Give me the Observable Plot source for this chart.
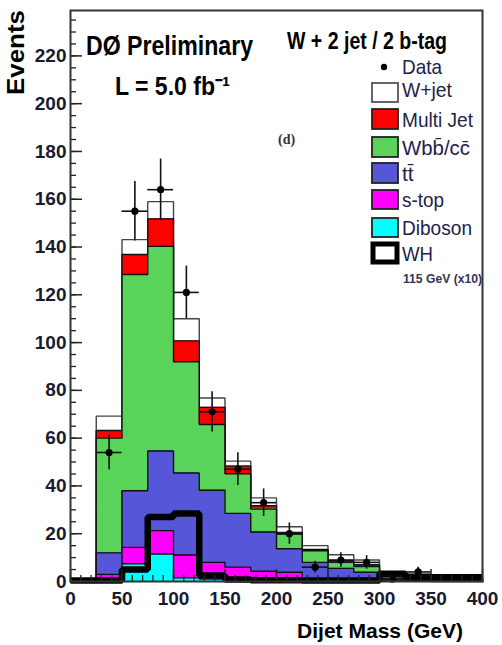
<!DOCTYPE html>
<html><head><meta charset="utf-8">
<script src="https://cdn.jsdelivr.net/npm/d3@7"></script>
<script src="https://cdn.jsdelivr.net/npm/@observablehq/plot@0.6"></script>
<style>body{margin:0;background:#fff} svg{display:block}</style>
</head><body><div id="chart"></div>
<script>
// ---- data (25 GeV bins, 0..400 GeV) ----
const binEdges = [0,25,50,75,100,125,150,175,200,225,250,275,300,325,350,375,400];
const diboson  = [0, 1.0, 7.4, 11.5, 1.5, 1.0, 0.5, 0.3, 0.3, 0.2, 0.2, 0.3, 0.1, 0.1, 0.0, 0.0];
const stop     = [0, 2.0, 6.9, 9.8, 9.6, 7.0, 5.5, 4.0, 3.6, 1.0, 0.8, 1.0, 0.3, 0.2, 0.1, 0.1];
const ttbar    = [0, 9.0, 23.7, 33.3, 34.3, 30.2, 22.5, 16.4, 9.8, 6.8, 4.5, 2.6, 1.0, 0.8, 0.4, 0.3];
const wbb      = [0, 48.0, 90.5, 85.7, 46.6, 27.5, 16.6, 9.6, 6.2, 4.9, 2.5, 2.4, 1.2, 1.0, 0.6, 0.5];
const multijet = [0, 3.2, 8.4, 11.5, 8.7, 7.2, 3.2, 1.4, 0.6, 0.5, 0.7, 0.7, 0.3, 0.3, 0.2, 0.1];
const wjet     = [0, 6.0, 6.2, 7.2, 9.3, 3.9, 2.1, 3.3, 2.4, 1.6, 2.5, 2.0, 1.0, 0.8, 0.5, 0.4];
const whx10    = [0.4, 0.4, 5.0, 27.0, 28.5, 2.5, 0.8, 0.5, 0.5, 0.4, 0.4, 0.4, 3.2, 1.8, 1.8, 1.8];
const dataCounts = [0, 54, 155, 164, 121, 71, 47, 33, 20, 6, 9, 8, 1, 4, 0, 0];

const yTicks = [0,20,40,60,80,100,120,140,160,180,200,220];
const yMinor = d3.range(0, 240, 5);
const xTicks = [0,50,100,150,200,250,300,350,400];
const xMinor = d3.range(0, 410, 10);

// stacking order bottom -> top
const layerNames  = ["Diboson", "s-top", "tt̄", "Wbb̄/cc̄", "Multi Jet", "W+jet"];
const layerValues = [diboson, stop, ttbar, wbb, multijet, wjet];
const layerColors = ["#00ffff", "#ff00ff", "#5656d8", "#5ad35a", "#ff0000", "#ffffff"];
const layerStroke = ["#111", "#111", "#111", "#111", "#111", "#444"];

const FONT = "'Liberation Sans', Arial, Helvetica, sans-serif";
const nb = binEdges.length - 1;

function stepPoints(vals) {
  const pts = [{x: binEdges[0], y: 0}];
  vals.forEach((v, i) => pts.push({x: binEdges[i], y: v}));
  pts.push({x: binEdges[nb], y: vals[nb - 1]});
  pts.push({x: binEdges[nb], y: 0});
  return pts;
}

// cumulative tops per layer
const cumul = [];
layerValues.forEach((vals, k) => {
  cumul.push(vals.map((v, i) => v + (k > 0 ? cumul[k - 1][i] : 0)));
});

const stackMarks = [];
for (let k = layerValues.length - 1; k >= 0; k--) {
  const pts = stepPoints(cumul[k]);
  stackMarks.push(Plot.areaY(pts, {x: "x", y1: 0, y2: "y", curve: "step-after", fill: layerColors[k]}));
  stackMarks.push(Plot.lineY(pts, {x: "x", y: "y", curve: "step-after", stroke: layerStroke[k], strokeWidth: 1.4, strokeLinejoin: "miter"}));
}

const whPts = stepPoints(whx10).slice(1, -1);

const dataPts = dataCounts.map((n, i) => ({lo: binEdges[i], hi: binEdges[i + 1], c: (binEdges[i] + binEdges[i + 1]) / 2, n}))
  .filter(d => d.n > 0);

const chart = Plot.plot({
  width: 502, height: 645,
  marginTop: 10, marginRight: 20, marginBottom: 64, marginLeft: 70,
  style: {fontFamily: FONT, background: "#fff", color: "#1a1a2e"},
  x: {domain: [0, 400], label: null},
  y: {domain: [0, 239], label: null},
  marks: [
    ...stackMarks,
    Plot.lineY(whPts, {x: "x", y: "y", curve: "step-after", stroke: "#000", strokeWidth: 6.5, strokeLinejoin: "miter", strokeLinecap: "butt"}),
    Plot.ruleX(dataPts, {x: "c", y1: d => d.n - Math.sqrt(d.n), y2: d => d.n + Math.sqrt(d.n), stroke: "#111", strokeWidth: 1.6}),
    Plot.ruleY(dataPts, {y: "n", x1: "lo", x2: "hi", stroke: "#111", strokeWidth: 1.6}),
    Plot.dot(dataPts, {x: "c", y: "n", r: 3.6, fill: "#000"}),
    Plot.tickY(yTicks, {y: d => d, insetRight: 400, stroke: "#222", strokeWidth: 1.5}),
    Plot.tickY(yMinor, {y: d => d, insetRight: 406, stroke: "#222", strokeWidth: 1.3}),
    Plot.tickX(xTicks, {x: d => d, insetTop: 559, stroke: "#222", strokeWidth: 1.5}),
    Plot.tickX(xMinor, {x: d => d, insetTop: 565, stroke: "#222", strokeWidth: 1.3}),
    Plot.axisY(yTicks, {tickSize: 0, tickPadding: 4, fontSize: 19, fontWeight: "bold", label: null}),
    Plot.axisX(xTicks, {tickSize: 0, tickPadding: 10, fontSize: 19, fontWeight: "bold", label: null}),
    Plot.frame({stroke: "#333", strokeWidth: 2})
  ]
});
document.getElementById("chart").appendChild(chart);

const svg = d3.select(chart);
function label(t, o) {
  const el = svg.append("text")
    .attr("x", o.x).attr("y", o.y)
    .attr("font-size", o.size)
    .attr("font-weight", o.weight || "normal")
    .attr("font-family", o.family || FONT)
    .attr("fill", o.fill || "#000")
    .attr("text-anchor", o.anchor || "start");
  if (o.transform) el.attr("transform", o.transform);
  if (o.len) el.attr("textLength", o.len).attr("lengthAdjust", "spacingAndGlyphs");
  el.text(t);
  return el;
}

// titles
label("Events", {x: 0, y: 0, size: 24, weight: "bold", anchor: "end", len: 85, transform: "translate(24,10) rotate(-90)"});
label("Dijet Mass (GeV)", {x: 463, y: 638, size: 21, weight: "bold", anchor: "end", len: 166});
label("DØ Preliminary", {x: 86, y: 55, size: 27, weight: "bold", len: 167});
label("L = 5.0 fb⁻¹", {x: 115, y: 95, size: 25, weight: "bold", len: 115});
label("W + 2 jet / 2 b-tag", {x: 287, y: 49, size: 24, weight: "bold", len: 160});
label("(d)", {x: 278, y: 144, size: 14, weight: "bold", family: "'Liberation Serif', 'DejaVu Serif', serif", fill: "#333"});

// legend
const LFILL = "#22224a";
svg.append("circle").attr("cx", 384).attr("cy", 67).attr("r", 3.2).attr("fill", "#000");
label("Data", {x: 402, y: 74, size: 21, fill: LFILL, len: 40});
const legendRows = [
  {k: 5, y: 83, h: 19, base: 97, len: 50},
  {k: 4, y: 109, h: 20, base: 127, len: 71},
  {k: 3, y: 137, h: 20, base: 155, len: 68},
  {k: 2, y: 163, h: 20, base: 181, len: 0},
  {k: 1, y: 190, h: 19, base: 207, len: 42},
  {k: 0, y: 218, h: 19, base: 235, len: 70}
];
legendRows.forEach(r => {
  svg.append("rect").attr("x", 372).attr("y", r.y).attr("width", 26).attr("height", r.h)
    .attr("fill", layerColors[r.k]).attr("stroke", r.k === 5 ? "#555" : "#222").attr("stroke-width", 1.8);
  label(layerNames[r.k], {x: 402, y: r.base, size: 21, fill: LFILL, len: r.len || null});
});
svg.append("rect").attr("x", 373).attr("y", 244).attr("width", 24).attr("height", 18)
  .attr("fill", "#fff").attr("stroke", "#000").attr("stroke-width", 5);
label("WH", {x: 402, y: 261, size: 21, fill: LFILL, len: 31});
label("115 GeV (x10)", {x: 403, y: 283, size: 12, weight: "bold", fill: "#333355", len: 79});
</script>
</body></html>
